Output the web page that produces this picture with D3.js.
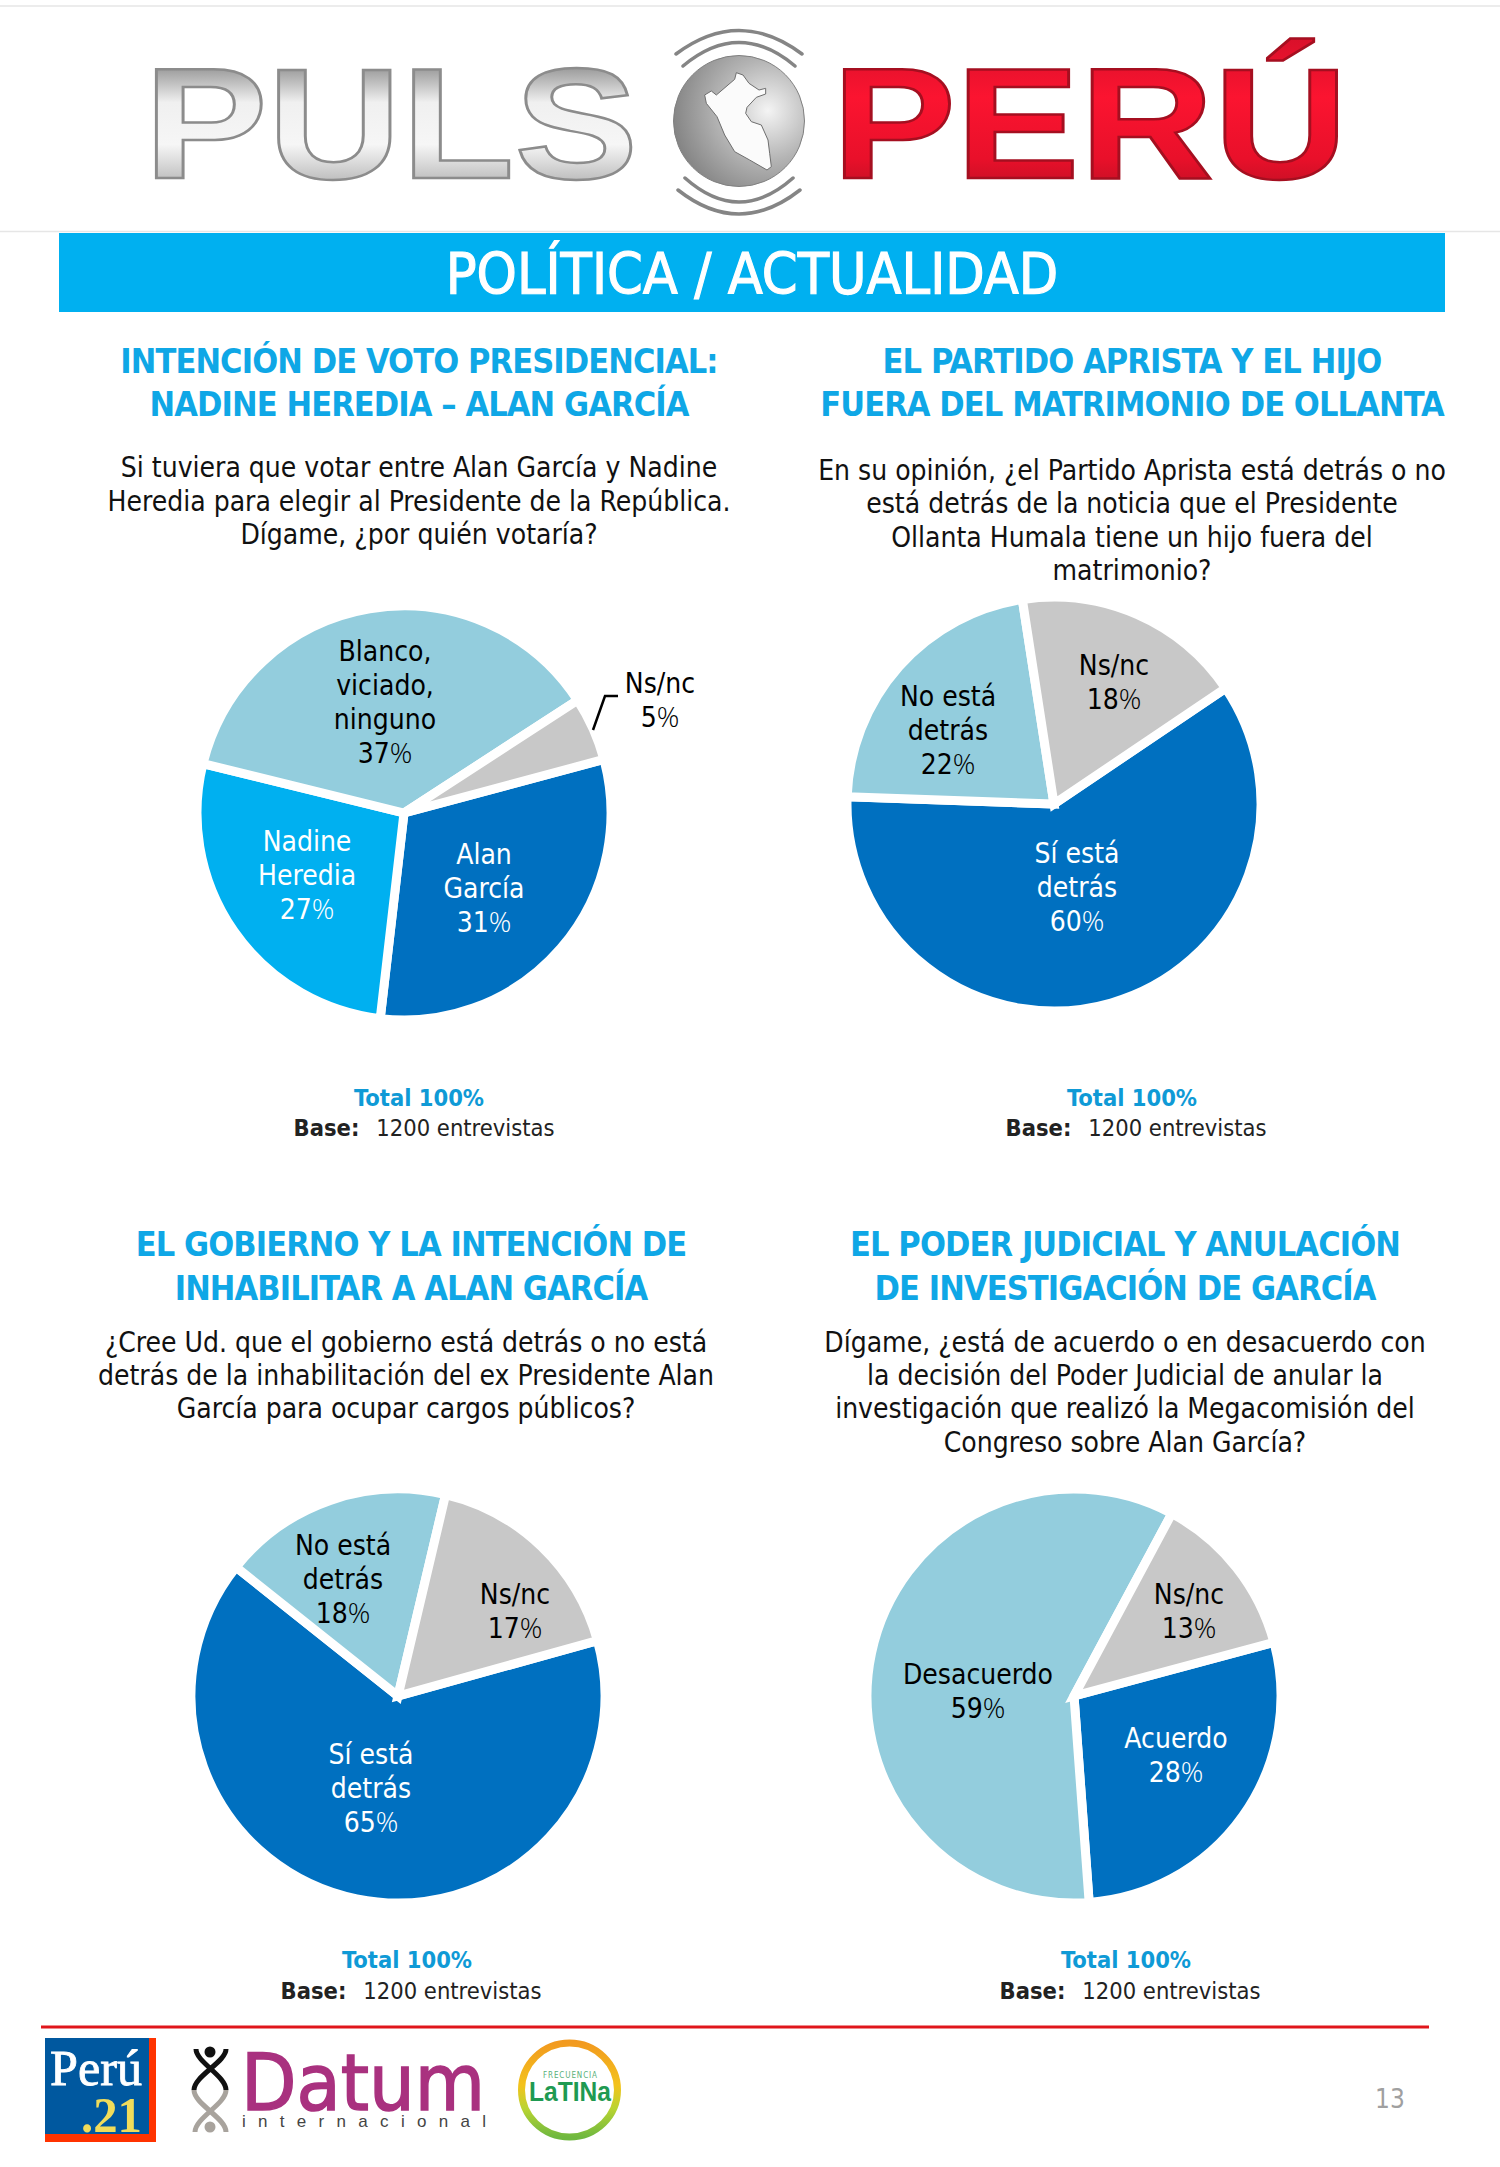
<!DOCTYPE html>
<html>
<head>
<meta charset="utf-8">
<script src="https://cdn.jsdelivr.net/npm/d3@7"></script>
<style>
  html, body { margin: 0; padding: 0; background: #fff; }
  text { font-family: "DejaVu Sans Condensed", "DejaVu Sans", sans-serif; }
</style>
</head>
<body>
<div id="chart"></div>
<script>
// Values
const voteCategories = ["Alan\nGarcía", "Nadine\nHeredia", "Blanco,\nviciado,\nninguno", "Ns/nc"];
const voteValues = [31, 27, 37, 5];
const apraCategories = ["Sí está\ndetrás", "No está\ndetrás", "Ns/nc"];
const apraValues = [60, 22, 18];
const govCategories = ["Sí está\ndetrás", "No está\ndetrás", "Ns/nc"];
const govValues = [65, 18, 17];
const judgeCategories = ["Acuerdo", "Desacuerdo", "Ns/nc"];
const judgeValues = [28, 59, 13];

const voteTitle = ["INTENCIÓN DE VOTO PRESIDENCIAL:", "NADINE HEREDIA – ALAN GARCÍA"];
const apraTitle = ["EL PARTIDO APRISTA Y EL HIJO", "FUERA DEL MATRIMONIO DE OLLANTA"];
const govTitle = ["EL GOBIERNO Y LA INTENCIÓN DE", "INHABILITAR A ALAN GARCÍA"];
const judgeTitle = ["EL PODER JUDICIAL Y ANULACIÓN", "DE INVESTIGACIÓN DE GARCÍA"];

const voteQuestion = ["Si tuviera que votar entre Alan García y Nadine", "Heredia para elegir al Presidente de la República.", "Dígame, ¿por quién votaría?"];
const apraQuestion = ["En su opinión, ¿el Partido Aprista está detrás o no", "está detrás de la noticia que el Presidente", "Ollanta Humala tiene un hijo fuera del", "matrimonio?"];
const govQuestion = ["¿Cree Ud. que el gobierno está detrás o no está", "detrás de la inhabilitación del ex Presidente Alan", "García para ocupar cargos públicos?"];
const judgeQuestion = ["Dígame, ¿está de acuerdo o en desacuerdo con", "la decisión del Poder Judicial de anular la", "investigación que realizó la Megacomisión del", "Congreso sobre Alan García?"];

const totalLabel = "Total 100%";
const baseValue = "1200 entrevistas";

const darkBlue = "#0070c0", cyan = "#00b0f0", lightBlue = "#93cddd", gray = "#c8c8c8";

// Layout of each panel, kept apart from the values
const panels = [
  { categories: voteCategories, values: voteValues, title: voteTitle, question: voteQuestion,
    colors: [darkBlue, cyan, lightBlue, gray], start: 75,
    cx: 404, cy: 813, titleX: 419, titleY: [373, 416], questionX: 419, questionY: [477, 511, 544],
    totalX: 419, baseX: 424, totalY: [1106, 1136],
    labels: [[484, 864, "#fff"], [307, 851, "#fff"], [385, 661, "#000"], [660, 693, "#000"]] },
  { categories: apraCategories, values: apraValues, title: apraTitle, question: apraQuestion,
    colors: [darkBlue, lightBlue, gray], start: 56,
    cx: 1054, cy: 804, titleX: 1132, titleY: [373, 416], questionX: 1132, questionY: [480, 513, 547, 580],
    totalX: 1132, baseX: 1136, totalY: [1106, 1136],
    labels: [[1077, 863, "#fff"], [948, 706, "#000"], [1114, 675, "#000"]] },
  { categories: govCategories, values: govValues, title: govTitle, question: govQuestion,
    colors: [darkBlue, lightBlue, gray], start: 74.5,
    cx: 398, cy: 1696, titleX: 411, titleY: [1256, 1300], questionX: 406, questionY: [1352, 1385, 1418],
    totalX: 407, baseX: 411, totalY: [1968, 1999],
    labels: [[371, 1764, "#fff"], [343, 1555, "#000"], [515, 1604, "#000"]] },
  { categories: judgeCategories, values: judgeValues, title: judgeTitle, question: judgeQuestion,
    colors: [darkBlue, lightBlue, gray], start: 75,
    cx: 1074, cy: 1696, titleX: 1125, titleY: [1256, 1300], questionX: 1125, questionY: [1352, 1385, 1418, 1452],
    totalX: 1126, baseX: 1130, totalY: [1968, 1999],
    labels: [[1176, 1748, "#fff"], [978, 1684, "#000"], [1189, 1604, "#000"]] }
];

const width = 1500, height = 2167;
const radius = 207;
const labelGap = 34;

const svg = d3.select("#chart").append("svg")
  .attr("width", width)
  .attr("height", height)
  .style("display", "block");

const defs = svg.append("defs");

function metalGradient(id, stops) {
  const g = defs.append("linearGradient").attr("id", id)
    .attr("x1", 0).attr("y1", 0).attr("x2", 0).attr("y2", 1);
  stops.forEach(s => g.append("stop").attr("offset", s[0]).attr("stop-color", s[1]));
}
metalGradient("silver", [[0, "#7c7c7c"], [0.18, "#9a9a9a"], [0.38, "#f0f0f0"], [0.62, "#f6f6f6"], [0.85, "#b8b8b8"], [1, "#808080"]]);
metalGradient("redMetal", [[0, "#d8102a"], [0.35, "#fb1430"], [0.7, "#e9102a"], [1, "#a90f20"]]);
metalGradient("latinaRing", [[0, "#f29a1f"], [0.45, "#f3c31d"], [0.7, "#b9d432"], [1, "#6fb83f"]]);

const ball = defs.append("radialGradient").attr("id", "ball")
  .attr("cx", 0.72).attr("cy", 0.42).attr("r", 0.85);
[[0, "#f4f4f4"], [0.45, "#b4b4b4"], [1, "#747474"]].forEach(s =>
  ball.append("stop").attr("offset", s[0]).attr("stop-color", s[1]));

// Header
svg.append("line").attr("x1", 0).attr("x2", width).attr("y1", 6).attr("y2", 6)
  .attr("stroke", "#e6e6e6").attr("stroke-width", 1.5);
svg.append("line").attr("x1", 0).attr("x2", width).attr("y1", 231.5).attr("y2", 231.5)
  .attr("stroke", "#e6e6e6").attr("stroke-width", 1.5);

function logoWord(word, x, len, fill, stroke) {
  svg.append("text")
    .attr("x", x).attr("y", 178)
    .attr("textLength", len).attr("lengthAdjust", "spacingAndGlyphs")
    .style("font-family", "'Liberation Sans', sans-serif")
    .style("font-weight", 700).style("font-size", "157px")
    .attr("fill", fill).attr("stroke", stroke).attr("stroke-width", 2.5)
    .text(word);
}
logoWord("PULS", 144, 494, "url(#silver)", "#8c8c8c");
logoWord("PERÚ", 832, 516, "url(#redMetal)", "#a50f20");

// Globe, the map on it and the rings round it
const logoG = svg.append("g").attr("transform", "translate(739,121)");
logoG.append("circle").attr("r", 65.5).attr("fill", "url(#ball)").attr("stroke", "#808080");
const mapOutline = [[230,158],[250,165],[268,190],[298,210],[318,205],[318,222],[290,232],[262,262],[258,280],[275,305],[305,315],[325,360],[330,400],[335,440],[322,450],[270,420],[225,395],[195,345],[172,290],[140,250],[135,225],[155,213],[170,225],[205,195],[225,178]];
logoG.append("path")
  .attr("d", d3.line().x(d => (d[0] - 238) / 3).y(d => (d[1] - 303) / 3)(mapOutline) + "Z")
  .attr("fill", "#fbfbfb").attr("stroke", "#6e6e6e").attr("stroke-width", 1);
[[-63, -67, -114], [-56, -55, -102], [-54, 57, 105], [-61, 69, 117]].forEach(r => {
  logoG.append("path")
    .attr("d", `M${r[0]},${r[1]} Q0,${r[2]} ${-r[0]},${r[1]}`)
    .attr("fill", "none").attr("stroke", "#858585").attr("stroke-width", 3.5).attr("stroke-linecap", "round");
});

// Banner
svg.append("rect").attr("x", 59).attr("y", 233).attr("width", 1386).attr("height", 79).attr("fill", cyan);
svg.append("text").attr("x", 752).attr("y", 294).attr("text-anchor", "middle")
  .attr("fill", "#fff").attr("stroke", "#fff").attr("stroke-width", 1.1)
  .style("font-size", "57px").text("POLÍTICA / ACTUALIDAD");

// Panels
const arc = d3.arc().innerRadius(0).outerRadius(radius);

panels.forEach(p => {
  const pie = d3.pie().sort(null)
    .startAngle(p.start * Math.PI / 180)
    .endAngle(p.start * Math.PI / 180 + 2 * Math.PI);

  const color = d3.scaleOrdinal().domain(p.categories).range(p.colors);

  svg.append("g").attr("transform", `translate(${p.cx},${p.cy})`)
    .selectAll("path")
    .data(pie(p.values))
    .enter()
    .append("path")
    .attr("d", arc)
    .attr("fill", (d, i) => color(p.categories[i]))
    .attr("stroke", "#fff")
    .attr("stroke-width", 9)
    .attr("stroke-linejoin", "miter");

  p.title.forEach((line, i) => {
    svg.append("text").attr("x", p.titleX).attr("y", p.titleY[i]).attr("text-anchor", "middle")
      .attr("fill", "#0fa7e6").style("font-size", "34px").style("font-weight", 700)
      .style("letter-spacing", "-0.9px")
      .text(line);
  });

  p.question.forEach((line, i) => {
    svg.append("text").attr("x", p.questionX).attr("y", p.questionY[i]).attr("text-anchor", "middle")
      .attr("fill", "#111").style("font-size", "28px")
      .text(line);
  });

  p.categories.forEach((cat, i) => {
    const [lx, ly, fill] = p.labels[i];
    const lines = cat.split("\n");
    lines.forEach((line, j) => {
      svg.append("text").attr("x", lx).attr("y", ly + j * labelGap).attr("text-anchor", "middle")
        .attr("fill", fill).style("font-size", "28px").text(line);
    });
    const pct = svg.append("text").attr("x", lx).attr("y", ly + lines.length * labelGap)
      .attr("text-anchor", "middle").attr("fill", fill).style("font-size", "28px").text(p.values[i]);
    pct.append("tspan").style("font-family", "'Open Sans', sans-serif").style("font-weight", 300).text("%");
  });

  svg.append("text").attr("x", p.totalX).attr("y", p.totalY[0]).attr("text-anchor", "middle")
    .attr("fill", "#0f9ad6").style("font-size", "23.5px").style("font-weight", 700)
    .text(totalLabel);
  const base = svg.append("text").attr("x", p.baseX).attr("y", p.totalY[1]).attr("text-anchor", "middle")
    .attr("fill", "#222").style("font-size", "23.5px");
  base.append("tspan").style("font-weight", 700).text("Base:");
  base.append("tspan").attr("dx", 17).text(baseValue);
});

// Leader line of the small slice in the first pie
svg.append("path")
  .attr("d", d3.line()([[593, 730], [605, 696], [618, 696]]))
  .attr("fill", "none").attr("stroke", "#000").attr("stroke-width", 2.5);

// Footer
svg.append("line").attr("x1", 41).attr("x2", 1429).attr("y1", 2027).attr("y2", 2027)
  .attr("stroke", "#e0161b").attr("stroke-width", 3);

svg.append("rect").attr("x", 45).attr("y", 2038).attr("width", 111).attr("height", 104).attr("fill", "#ff3300");
svg.append("rect").attr("x", 45).attr("y", 2038).attr("width", 104).attr("height", 96).attr("fill", "#00589f");
svg.append("text").attr("x", 96).attr("y", 2085).attr("text-anchor", "middle")
  .attr("textLength", 92).attr("lengthAdjust", "spacingAndGlyphs")
  .style("font-family", "'Liberation Serif', serif").style("font-size", "50px")
  .attr("fill", "#fff").attr("stroke", "#fff").attr("stroke-width", 0.8).text("Perú");
svg.append("text").attr("x", 111.5).attr("y", 2132).attr("text-anchor", "middle")
  .attr("textLength", 61).attr("lengthAdjust", "spacingAndGlyphs")
  .style("font-family", "'Liberation Serif', serif").style("font-weight", 700).style("font-size", "50px")
  .attr("fill", "#f0dc5a").text(".21");

// Datum figure
const figure = svg.append("g").attr("fill", "none").attr("stroke-width", 5);
figure.append("path").attr("d", "M196,2049 C196,2062 226,2076 226,2090 M226,2049 C226,2062 194,2076 194,2090")
  .attr("stroke", "#111");
figure.append("path").attr("d", "M226,2090 C226,2104 195,2118 195,2132 M194,2090 C194,2104 226,2118 226,2132")
  .attr("stroke", "#a8a39d");
svg.append("circle").attr("cx", 210).attr("cy", 2052).attr("r", 5.5).attr("fill", "#111");
svg.append("circle").attr("cx", 210).attr("cy", 2127).attr("r", 5.5).attr("fill", "#a8a39d");

svg.append("text").attr("x", 241).attr("y", 2110)
  .attr("textLength", 244).attr("lengthAdjust", "spacingAndGlyphs")
  .style("font-family", "'DejaVu Sans', sans-serif").style("font-size", "78px")
  .attr("fill", "#a9317f").attr("stroke", "#a9317f").attr("stroke-width", 1.6).text("Datum");
svg.append("text").attr("x", 242).attr("y", 2127)
  .attr("textLength", 244).attr("lengthAdjust", "spacing")
  .style("font-family", "'Liberation Sans', sans-serif").style("font-size", "17px")
  .attr("fill", "#444").text("internacional");

svg.append("ellipse").attr("cx", 569.5).attr("cy", 2090).attr("rx", 48).attr("ry", 47)
  .attr("fill", "none").attr("stroke", "url(#latinaRing)").attr("stroke-width", 7);
svg.append("text").attr("x", 570).attr("y", 2078).attr("text-anchor", "middle")
  .attr("textLength", 54).attr("lengthAdjust", "spacing")
  .style("font-size", "8px").attr("fill", "#59b07a").text("FRECUENCIA");
svg.append("text").attr("x", 570).attr("y", 2101).attr("text-anchor", "middle")
  .attr("textLength", 82).attr("lengthAdjust", "spacingAndGlyphs")
  .style("font-family", "'Liberation Sans', sans-serif").style("font-weight", 700).style("font-size", "28px")
  .attr("fill", "#1f9a52").text("LaTINa");

svg.append("text").attr("x", 1390).attr("y", 2108).attr("text-anchor", "middle")
  .attr("fill", "#a0a0a0").style("font-size", "26px").text("13");
</script>
</body>
</html>
